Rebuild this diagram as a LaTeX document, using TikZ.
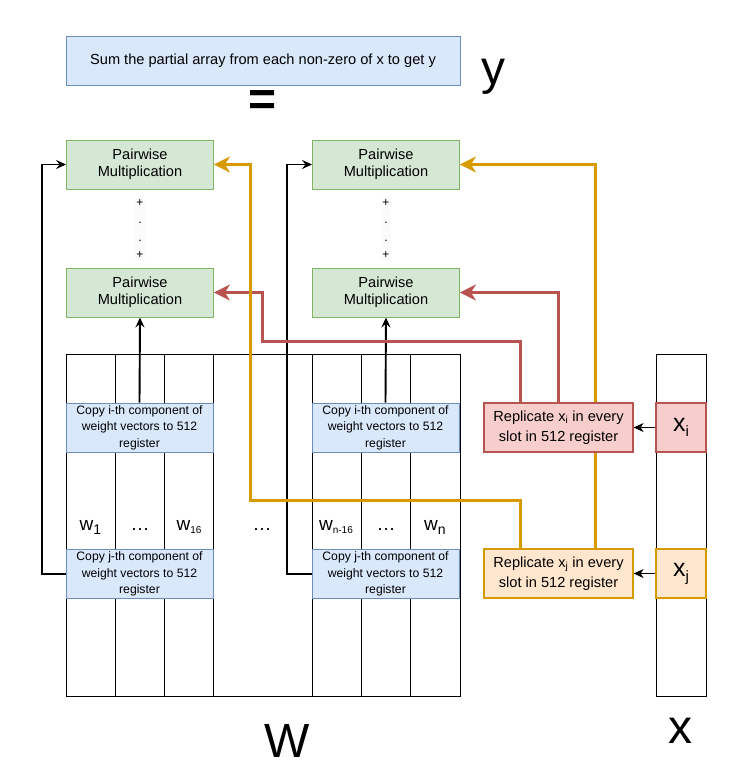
\documentclass[tikz,border=0pt]{standalone}
\usepackage{fontspec}
\setmainfont{Liberation Sans}
\usetikzlibrary{arrows.meta, positioning, calc, backgrounds}
\definecolor{greenfill}{HTML}{D5E8D4}
\definecolor{greenline}{HTML}{82B366}
\definecolor{bluefill}{HTML}{DAE8FC}
\definecolor{blueline}{HTML}{6C8EBF}
\definecolor{redfill}{HTML}{F8CECC}
\definecolor{redline}{HTML}{B85450}
\definecolor{orangefill}{HTML}{FFE6CC}
\definecolor{orangeline}{HTML}{D79B00}

\begin{document}
\begin{tikzpicture}[x=1pt, y=-1pt,
	greenbox/.style={rectangle, draw=greenline, fill=greenfill, line width=0.9pt, minimum height=49pt, minimum width=147pt, inner sep=0pt, align=center, font=\fontsize{14.6}{17.3}\selectfont},
	bluebox/.style={rectangle, draw=blueline, fill=bluefill, line width=0.9pt, minimum height=49pt, minimum width=147pt, inner sep=0pt, align=center, font=\fontsize{12.2}{16.5}\selectfont},
	redbox/.style={rectangle, draw=redline, fill=redfill, line width=1.2pt, minimum height=49pt, minimum width=149pt, inner sep=0pt, align=center, font=\fontsize{14.6}{20}\selectfont},
	orangebox/.style={rectangle, draw=orangeline, fill=orangefill, line width=1.2pt, minimum height=49pt, minimum width=149pt, inner sep=0pt, align=center, font=\fontsize{14.6}{20}\selectfont},
	cellbox/.style={rectangle, line width=1.1pt, minimum height=49pt, minimum width=50pt, inner sep=0pt, font=\fontsize{25}{25}\selectfont},
	column/.style={draw, line width=1pt},
	arrow/.style={-{Stealth[length=10pt, width=9pt, inset=3.5pt]}, line width=1.9pt},
	thinarrow/.style={-{Stealth[length=10pt, width=9pt, inset=3pt]}, line width=1pt},
	fatarrow/.style={-{Stealth[length=16pt, width=16pt, inset=5pt]}, line width=3pt},
	wlabel/.style={font=\fontsize{19}{19}\selectfont, anchor=base},
	big/.style={font=\fontsize{48}{48}\selectfont, inner sep=0pt},
	every node/.style={align=center}
	]
	\useasboundingbox (0,0) rectangle (744,780);

	\node[bluebox, minimum width=394pt, font=\fontsize{14.6}{17.3}\selectfont] (sum) at (263,60.5) {Sum the partial array from each non-zero of x to get y};
	\node[big, anchor=base] (y-label) at (493,84) {y};
	\node[big, font=\fontsize{48}{48}\selectfont\bfseries] (equals) at (263,103) {=};

	% pairwise products
	\node[greenbox] (pm-a1) at (140,164.5) {Pairwise\\Multiplication};
	\node[greenbox] (pm-a2) at (140,292.5) {Pairwise\\Multiplication};
	\node[greenbox] (pm-b1) at (386,164.5) {Pairwise\\Multiplication};
	\node[greenbox] (pm-b2) at (386,292.5) {Pairwise\\Multiplication};
	\node[fill=gray!3, inner sep=1pt, font=\fontsize{12}{17.5}\selectfont] (dots-a) at (140,229) {+\\.\\.\\+};
	\node[fill=gray!3, inner sep=1pt, font=\fontsize{12}{17.5}\selectfont] (dots-b) at (386,229) {+\\.\\.\\+};

	% copy into registers
	\node[bluebox] (copy-i-a) at (139.5,427.5) {Copy i-th component of\\weight vectors to 512\\register};
	\node[bluebox] (copy-i-b) at (385.5,427.5) {Copy i-th component of\\weight vectors to 512\\register};
	\node[bluebox] (copy-j-a) at (139.5,574) {Copy j-th component of\\weight vectors to 512\\register};
	\node[bluebox] (copy-j-b) at (385.5,574) {Copy j-th component of\\weight vectors to 512\\register};

	\node[redbox] (rep-i) at (558.5,427.5) {Replicate x\textsubscript{i} in every\\slot in 512 register};
	\node[orangebox] (rep-j) at (558.5,573.5) {Replicate x\textsubscript{j} in every\\slot in 512 register};

	\node[cellbox, draw=redline, fill=redfill] (x-i) at (681,427.5) {x\raisebox{-5pt}{\fontsize{15}{15}\selectfont i}};
	\node[cellbox, draw=orangeline, fill=orangefill] (x-j) at (681,573.5) {x\raisebox{-5pt}{\fontsize{15}{15}\selectfont j}};

	% entries of W
	\node[wlabel] (w-1) at (90.5,530) {w\raisebox{-4pt}{\fontsize{14}{14}\selectfont 1}};
	\node[wlabel] (w-dots-a) at (140,530) {\dots};
	\node[wlabel] (w-16) at (189,530) {w\raisebox{-3pt}{\fontsize{10}{10}\selectfont 16}};
	\node[wlabel] (w-dots) at (262,530) {\dots};
	\node[wlabel] (w-n16) at (336,530) {w\raisebox{-3pt}{\fontsize{10}{10}\selectfont n-16}};
	\node[wlabel] (w-dots-b) at (386,530) {\dots};
	\node[wlabel] (w-n) at (435,530) {w\raisebox{-4pt}{\fontsize{14}{14}\selectfont n}};

	\node[big, anchor=base] (W-label) at (287,757) {W};
	\node[big, anchor=base] (x-label) at (680,743) {x};

	\begin{scope}[on background layer]
		\foreach \l/\r in {66/115, 115/164, 164/213, 213/312, 312/361, 361/410, 410/460}
			\draw[column] (\l,354) rectangle (\r,696);
		\draw[column] (656,354) rectangle (706,696);

		\draw[arrow] (copy-i-a.north) -- (pm-a2.south);
		\draw[arrow] (copy-i-b.north) -- (pm-b2.south);
		\draw[arrow] (copy-j-a.west) -- ++(-24,0) |- (pm-a1.west);
		\draw[arrow] (copy-j-b.west) -- ++(-25,0) |- (pm-b1.west);
		\draw[thinarrow] (x-i.west) -- (rep-i.east);
		\draw[thinarrow] (x-j.west) -- (rep-j.east);

		\draw[fatarrow, redline] ([xshift=37.5pt]rep-i.north west) |- (262.5,341.5) |- (pm-a2.east);
		\draw[fatarrow, redline] (rep-i.north) |- (pm-b2.east);
		\draw[fatarrow, orangeline] ([xshift=37.5pt]rep-j.north west) |- (250,500.5) |- (pm-a1.east);
		\draw[fatarrow, orangeline] ([xshift=112pt]rep-j.north west) |- (pm-b1.east);
	\end{scope}
\end{tikzpicture}
\end{document}
